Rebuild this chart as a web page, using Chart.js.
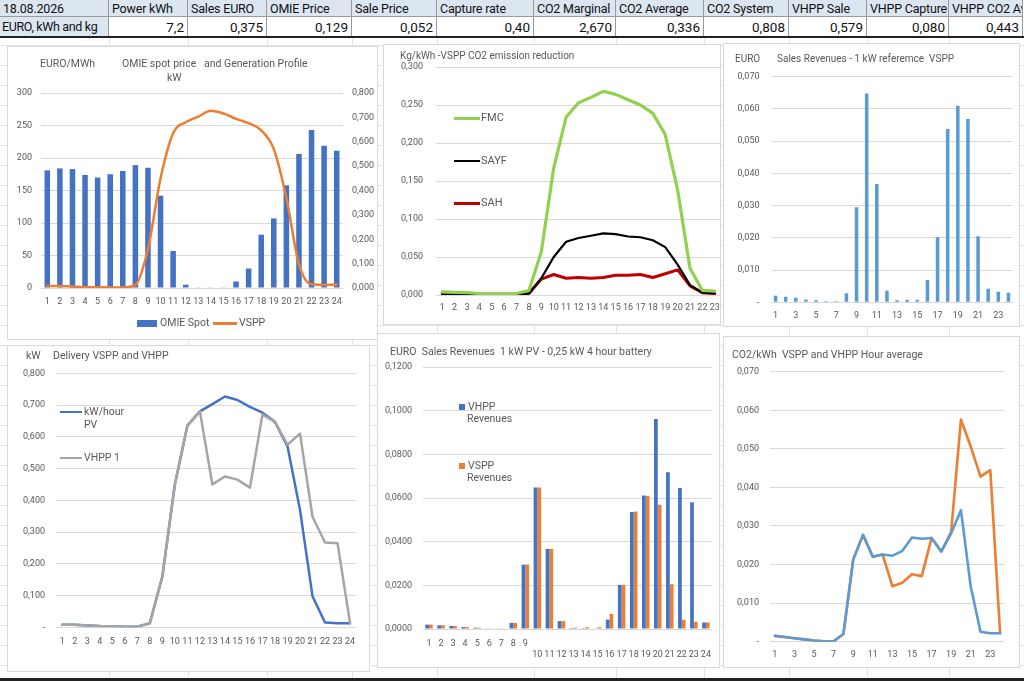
<!DOCTYPE html>
<html><head><meta charset="utf-8">
<script src="https://cdn.jsdelivr.net/npm/chart.js@4.4.1/dist/chart.umd.min.js"></script>
<style>
html,body{margin:0;padding:0;}
body{width:1024px;height:681px;overflow:hidden;position:relative;background:#fff;font-family:Roboto,"Liberation Sans",sans-serif;}
.vl{position:absolute;width:1px;background:#e3e3e3;}
.hl{position:absolute;height:1px;background:#e3e3e3;}
.cell{position:absolute;box-sizing:border-box;border-right:1px solid #9a9a9a;border-bottom:1px solid #9a9a9a;font-size:12.5px;letter-spacing:-0.2px;line-height:16px;padding:1px 3px 0 3px;white-space:nowrap;overflow:hidden;color:#111;}
.wrap{position:absolute;background:#fff;overflow:hidden;}
.bord{position:absolute;box-sizing:border-box;border:1px solid #d9d9d9;pointer-events:none;}
.t{position:absolute;font-size:10px;color:#595959;white-space:pre;line-height:12px;}
.mk{position:absolute;}
</style></head><body>
<script>
// ---------------- DATA ----------------
const hours24 = ['1','2','3','4','5','6','7','8','9','10','11','12','13','14','15','16','17','18','19','20','21','22','23','24'];
const hours23 = ['1','2','3','4','5','6','7','8','9','10','11','12','13','14','15','16','17','18','19','20','21','22','23'];

const tableHeaders = ['18.08.2026','Power kWh','Sales EURO','OMIE Price','Sale Price','Capture rate','CO2 Marginal','CO2 Average','CO2 System','VHPP Sale','VHPP Capture','VHPP CO2 Av'];
const tableValues  = ['EURO, kWh and kg','7,2','0,375','0,129','0,052','0,40','2,670','0,336','0,808','0,579','0,080','0,443'];

const omieSpot = [181,184,183,174,170,175,180,189,185,142,57,5,1,1,1,10,30,82,107,158,206,243,219,211];
const vsppKw   = [0.008,0.008,0.006,0.004,0.003,0.002,0.002,0.013,0.160,0.450,0.635,0.680,0.703,0.727,0.716,0.694,0.676,0.647,0.570,0.370,0.098,0.015,0.013,0.013];
const vhppKw   = [0.008,0.008,0.006,0.004,0.003,0.002,0.002,0.013,0.160,0.450,0.635,0.680,0.450,0.475,0.465,0.440,0.670,0.647,0.575,0.610,0.348,0.267,0.265,0.013];

const fmc  = [0.004,0.0035,0.003,0.002,0.0015,0.0015,0.002,0.006,0.057,0.167,0.234,0.253,0.260,0.268,0.264,0.257,0.250,0.239,0.211,0.138,0.035,0.006,0.005];
const sayf = [0.001,0.001,0.001,0.001,0.001,0.001,0.001,0.002,0.022,0.050,0.070,0.075,0.078,0.081,0.080,0.077,0.076,0.072,0.063,0.040,0.013,0.003,0.002];
const sah  = [0.002,0.001,0.001,0.001,0.001,0.001,0.001,0.002,0.021,0.027,0.022,0.023,0.022,0.023,0.026,0.026,0.027,0.023,0.028,0.033,0.012,0.003,0.002];

const vsppRevenue = [0.0020,0.0017,0.0014,0.0009,0.0006,0.0003,0.0003,0.0028,0.0295,0.0648,0.0367,0.0036,0.0006,0.0008,0.0008,0.0069,0.0202,0.0538,0.0610,0.0569,0.0205,0.0042,0.0033,0.0030];
const vhppRevenue = [0.0020,0.0017,0.0014,0.0009,0.0006,0.0003,0.0003,0.0028,0.0295,0.0648,0.0367,0.0036,0.0004,0.0004,0.0003,0.0043,0.0202,0.0536,0.0612,0.0962,0.0718,0.0646,0.0580,0.0030];

const vsppCo2 = [0.0015,0.0012,0.0009,0.0006,0.0003,0.0001,0.0001,0.0020,0.0213,0.0277,0.0220,0.0226,0.0223,0.0235,0.0270,0.0267,0.0269,0.0234,0.0281,0.0341,0.0143,0.0026,0.0022,0.0022];
const vhppCo2 = [0.0015,0.0012,0.0009,0.0006,0.0003,0.0001,0.0001,0.0020,0.0213,0.0277,0.0220,0.0226,0.0144,0.0153,0.0175,0.0170,0.0269,0.0234,0.0285,0.0576,0.0506,0.0428,0.0445,0.0022];

// ---------------- LAYOUT ----------------
const colEdges = [0,109,188,267,352,437,534,616,704,789,867,949,1023];
const body = document.body;
function el(cls, css, txt){const d=document.createElement('div');d.className=cls;Object.assign(d.style,css);if(txt!==undefined)d.textContent=txt;body.appendChild(d);return d;}

// spreadsheet background grid
for(let i=1;i<colEdges.length-1;i++) el('vl',{left:colEdges[i]+'px',top:'38px',height:'643px'});
for(let y=45;y<681;y+=20) el('hl',{left:'0px',top:y+'px',width:'1024px'});

// table
for(let i=0;i<tableHeaders.length;i++){
  const x=colEdges[i], w=colEdges[i+1]-colEdges[i];
  el('cell',{left:x+'px',top:'0px',width:w+'px',height:'17px',background:'#dce6f1'},tableHeaders[i]);
  el('cell',{left:x+'px',top:'17px',width:w+'px',height:'20px',background:i===0?'#dce6f1':'#fff',textAlign:i===0?'left':'right',lineHeight:'18px',fontSize:i===0?'12.5px':'13.5px',letterSpacing:i===0?'-0.35px':'0px',paddingLeft:i===0?'2px':'3px'},tableValues[i]);
}
el('mk',{left:'0px',top:'36px',width:'1024px',height:'2px',background:'#222'});
el('mk',{left:'0px',top:'678px',width:'1024px',height:'3px',background:'#222'});

Chart.defaults.font.family = 'Roboto, "Liberation Sans", sans-serif';
Chart.defaults.font.size = 9;
Chart.defaults.color = '#595959';

const fmt = (v,d)=> v.toFixed(d).replace('.',',');
const dashZero = d => v => Math.abs(v)<1e-9 ? '-' : fmt(v,d);

function panel(p){
  const W = p.w + (p.extra||0);
  const wrap = el('wrap',{left:p.x+'px',top:p.y+'px',width:p.w+'px',height:p.h+'px'});
  const cv = document.createElement('canvas');
  cv.width=W; cv.height=p.h; cv.style.width=W+'px'; cv.style.height=p.h+'px';
  wrap.appendChild(cv);
  el('bord',{left:p.x+'px',top:p.y+'px',width:p.w+'px',height:p.h+'px'});
  return {cv, W};
}

function build(p, type, labels, datasets, yAxes, xOpts){
  const {cv, W} = panel(p);
  const a = p.area;
  const hasRight = !!yAxes.yR;
  const scales = {
    x: {
      type:'category', offset:true,
      grid:{display:false, drawTicks:false}, border:{display:false},
      ticks:{autoSkip:false, maxRotation:0, minRotation:0, padding:xOpts.pad, font:{size:9, lineHeight:xOpts.lh||1.2}, callback:xOpts.cb},
      afterFit: s => { s.height = (p.y + p.h) - a.b; }
    }
  };
  scales.y = {
    position:'left', min:yAxes.y.min, max:yAxes.y.max,
    grid:{color:'#d9d9d9', drawTicks:false, lineWidth:1},
    border:{display:false},
    ticks:{stepSize:yAxes.y.step, padding:yAxes.y.pad, callback:yAxes.y.cb, font:{size:9}},
    afterFit: s => { s.width = a.l - p.x; }
  };
  if(hasRight){
    scales.yR = {
      position:'right', min:yAxes.yR.min, max:yAxes.yR.max,
      grid:{display:false, drawTicks:false}, border:{display:false},
      ticks:{stepSize:yAxes.yR.step, padding:yAxes.yR.pad, callback:yAxes.yR.cb, font:{size:9}},
      afterFit: s => { s.width = (p.x + W) - a.r; }
    };
  }
  return new Chart(cv, {
    type, data:{labels, datasets},
    options:{
      responsive:false, animation:false, maintainAspectRatio:false,
      layout:{padding:{left:0, top:a.t - p.y, right: hasRight?0:(p.x + W) - a.r, bottom:0}},
      plugins:{legend:{display:false}, tooltip:{enabled:false}},
      elements:{point:{radius:0}, line:{borderCapStyle:'round', borderJoinStyle:'round'}},
      scales
    }
  });
}

const P = {
  c1:{x:7,  y:46,  w:371, h:294, area:{l:41,   r:343,   t:93,    b:288}},
  c2:{x:383,y:44,  w:338, h:281, area:{l:436,  r:721,   t:67,    b:295}, extra:24},
  c3:{x:723,y:43,  w:297, h:284, area:{l:770.5,r:1013.5,t:76.7,  b:302.3}},
  c4:{x:7,  y:345, w:363, h:327, area:{l:56,   r:356.3, t:373.3, b:627.3}},
  c5:{x:377,y:333, w:343, h:335, area:{l:423,  r:713,   t:367,   b:629}},
  c6:{x:723,y:336, w:297, h:332, area:{l:770,  r:1005,  t:371.7, b:641.7}}
};
const oddOnly = function(v,i){ return i%2===0 ? this.getLabelForValue(v) : ''; };
const plain = function(v){ return this.getLabelForValue(v); };

// Chart 1: OMIE spot + VSPP
build(P.c1,'bar',hours24,[
  {type:'line', label:'VSPP', data:vsppKw, yAxisID:'yR', borderColor:'#ed7d31', borderWidth:2.5, cubicInterpolationMode:'monotone', fill:false},
  {type:'bar', label:'OMIE Spot', data:omieSpot, yAxisID:'y', backgroundColor:'#4472c4', categoryPercentage:1, barPercentage:0.44}
],{
  y:{min:0,max:300,step:50,pad:9,cb:v=>String(v)},
  yR:{min:0,max:0.8,step:0.1,pad:9,cb:v=>fmt(v,3)}
},{pad:8.6, cb:plain});

// Chart 2: CO2 emission reduction
build(P.c2,'line',hours23,[
  {label:'FMC', data:fmc, borderColor:'#92d050', borderWidth:3.2},
  {label:'SAYF', data:sayf, borderColor:'#000000', borderWidth:2.2},
  {label:'SAH', data:sah, borderColor:'#c00000', borderWidth:3}
],{
  y:{min:0,max:0.3,step:0.05,pad:13,cb:v=>fmt(v,3)}
},{pad:7.6, cb:plain});

// Chart 3: Sales revenues VSPP
build(P.c3,'bar',hours24,[
  {label:'VSPP', data:vsppRevenue, backgroundColor:'#5b9bd5', categoryPercentage:1, barPercentage:0.35}
],{
  y:{min:0,max:0.07,step:0.01,pad:11,cb:dashZero(3)}
},{pad:8.3, cb:oddOnly});

// Chart 4: Delivery VSPP and VHPP
build(P.c4,'line',hours24,[
  {label:'VHPP 1', data:vhppKw, borderColor:'#a5a5a5', borderWidth:2.5},
  {label:'kW/hour PV', data:vsppKw, borderColor:'#4472c4', borderWidth:2.5}
],{
  y:{min:0,max:0.8,step:0.1,pad:11,cb:dashZero(3)}
},{pad:9.3, cb:plain});

// Chart 5: Sales revenues PV + battery
build(P.c5,'bar',hours24,[
  {label:'VHPP Revenues', data:vhppRevenue, backgroundColor:'#4472c4', categoryPercentage:0.62, barPercentage:1},
  {label:'VSPP Revenues', data:vsppRevenue, backgroundColor:'#ed7d31', categoryPercentage:0.62, barPercentage:1}
],{
  y:{min:0,max:0.12,step:0.02,pad:11,cb:v=>fmt(v,4)}
},{pad:8.9, lh:1.22, cb:function(v,i){const l=this.getLabelForValue(v); return i>=9?['',l]:l;}});

// Chart 6: CO2 hour average
build(P.c6,'line',hours24,[
  {label:'VSPP', data:vsppCo2, borderColor:'#5b9bd5', borderWidth:2.6},
  {label:'VHPP', data:vhppCo2, borderColor:'#ed7d31', borderWidth:2.6}
],{
  y:{min:0,max:0.07,step:0.01,pad:11,cb:dashZero(3)}
},{pad:7.9, cb:oddOnly});

// ---------------- TITLES & LEGENDS (text) ----------------
function T(txt,x,yc,size,extra){ const s=size||10; const d=el('t',Object.assign({left:x+'px',top:(yc - s*0.6)+'px',fontSize:s+'px',lineHeight:(s*1.2)+'px'},extra||{}),txt); return d; }
function R(x,y,w,h,c){ el('mk',{left:x+'px',top:y+'px',width:w+'px',height:h+'px',background:c}); }

// chart 1
T('EURO/MWh',40,64,10.5);
T('OMIE spot price   and Generation Profile',122,64,10.5);
T('kW',167,78,10.5);
R(137,320,20,7,'#4472c4'); T('OMIE Spot',160,323,10.5);
R(213,322,24,2.5,'#ed7d31'); T('VSPP',239,323,10.5);
// chart 2
T('Kg/kWh -VSPP CO2 emission reduction',400,56,10);
R(454,116.5,26,3,'#92d050'); T('FMC',481,118,11);
R(454,159.5,26,2.4,'#000000'); T('SAYF',481,161,11);
R(454,201.5,26,3,'#c00000'); T('SAH',481,203,11);
// chart 3
T('EURO',735,59,10);
T('Sales Revenues - 1 kW referemce  VSPP',777,59,10);
// chart 4
T('kW',26,356,10.5);
T('Delivery VSPP and VHPP',53,356,10.5);
R(60,410.5,22,2.6,'#4472c4'); T('kW/hour',84,412,10.5); T('PV',84,425,10.5);
R(60,456.5,22,2.6,'#a5a5a5'); T('VHPP 1',84,458,10.5);
// chart 5
T('EURO  Sales Revenues  1 kW PV - 0,25 kW 4 hour battery',390,352,10.5);
R(459,404,6,6,'#4472c4'); T('VHPP',468,407,10.5); T('Revenues',467,419,10.5);
R(459,463,6,6,'#ed7d31'); T('VSPP',468,466,10.5); T('Revenues',467,478,10.5);
// chart 6
T('CO2/kWh  VSPP and VHPP Hour average',732,355,10.5);
</script>
</body></html>
